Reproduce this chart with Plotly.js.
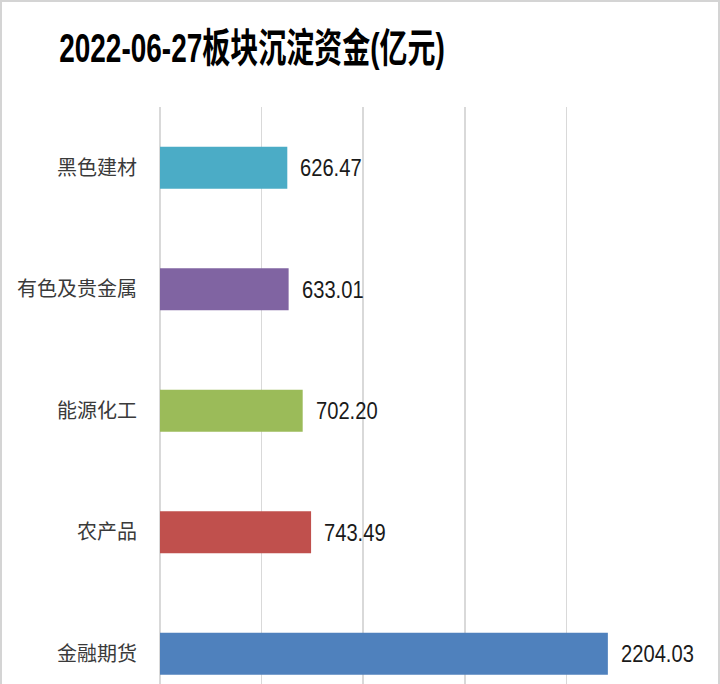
<!DOCTYPE html>
<html>
<head>
<meta charset="utf-8">
<script src="https://cdn.plot.ly/plotly-3.0.1.min.js"></script>
<style>
html,body{margin:0;padding:0;background:#fff;}
#chart{width:720px;height:684px;position:relative;}
#frame{position:absolute;left:0;top:0;width:720px;height:684px;box-sizing:border-box;border-top:2px solid #d4d4d4;border-left:2px solid #d4d4d4;border-right:2px solid #d4d4d4;pointer-events:none;}
#chart .gtitle{transform-box:fill-box;transform-origin:center;transform:scaleX(0.7);}
#chart .annotation-text{transform-box:fill-box;transform-origin:left center;transform:scaleX(0.84);}
</style>
</head>
<body>
<div id="chart"></div>
<div id="frame"></div>
<script>
const categories = ["金融期货", "农产品", "能源化工", "有色及贵金属", "黑色建材"];
const values = [2204.03, 743.49, 702.20, 633.01, 626.47];
const valueLabels = ["2204.03", "743.49", "702.20", "633.01", "626.47"];
const barColors = ["#4F81BD", "#C0504D", "#9BBB59", "#8064A2", "#4BACC6"];
const titleText = "2022-06-27板块沉淀资金(亿元)";

const numFont = "'Liberation Sans', Arial, sans-serif";

const trace = {
  type: "bar",
  orientation: "h",
  y: categories,
  x: values,
  width: 0.346,
  marker: {color: barColors, line: {width: 0}},
  hoverinfo: "none",
  cliponaxis: false
};

const annotations = categories.map((c, i) => ({
  x: values[i], y: c, xref: "x", yref: "y",
  text: valueLabels[i], showarrow: false,
  xanchor: "left", yanchor: "middle", xshift: 11,
  font: {family: numFont, size: 24, color: "#1a1a1a"}
}));

const layout = {
  width: 720, height: 684,
  margin: {l: 160, r: 52, t: 107, b: 0},
  paper_bgcolor: "#ffffff",
  plot_bgcolor: "#ffffff",
  showlegend: false,
  title: {
    text: titleText,
    x: 252/720, xanchor: "center", xref: "container",
    y: 1 - 48/684, yanchor: "middle", yref: "container",
    font: {family: "'Liberation Sans', 'Noto Sans CJK SC', sans-serif", size: 40, color: "#000", weight: "bold"}
  },
  xaxis: {
    range: [0, 2500],
    dtick: 500,
    showgrid: true, gridcolor: "#d9d9d9", gridwidth: 1.5,
    zeroline: true, zerolinecolor: "#d9d9d9", zerolinewidth: 1.5,
    showticklabels: false, ticks: "", showline: false,
    fixedrange: true
  },
  yaxis: {
    type: "category",
    categoryorder: "array", categoryarray: categories,
    range: [-0.249, 4.5],
    showgrid: false, zeroline: false, showline: false,
    ticks: "outside", ticklen: 18, tickcolor: "rgba(0,0,0,0)",
    tickfont: {family: "'Noto Sans CJK SC', sans-serif", size: 20, color: "#3a3a3a"},
    fixedrange: true
  },
  annotations: annotations
};

Plotly.newPlot("chart", [trace], layout, {displayModeBar: false, staticPlot: true});
</script>
</body>
</html>
